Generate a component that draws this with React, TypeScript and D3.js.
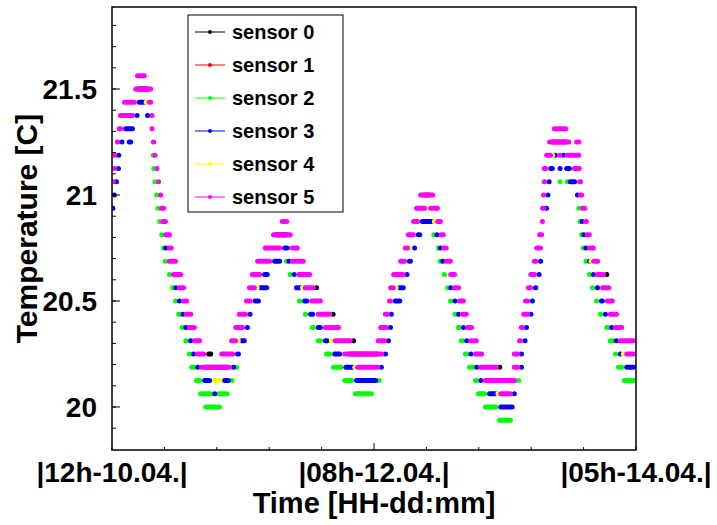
import React from 'react';
import * as d3 from 'd3';

const W = 717;
const H = 525;

const sensorNames = ['sensor 0', 'sensor 1', 'sensor 2', 'sensor 3', 'sensor 4', 'sensor 5'];
const sensorColors = ['#000000', '#ff0000', '#00ff00', '#0000ff', '#ffff00', '#ff00ff'];

// Each run: [temperature °C, start (hours after 12h 10.04.), end (hours)] — a sensor holding that reading
type Run = [number, number, number];

const sensor0Runs: Run[] = [
  [20.25, 16.0, 17.2], [20.5625, 34.7, 34.8], [20.4375, 37.5, 37.6], [20.3125, 41.0, 41.1],
  [20.1875, 65.8, 65.9], [20.625, 84.0, 84.1], [21.5, 4.0, 6.5], [20.8125, 27.5, 30.0],
];

const sensor1Runs: Run[] = [
  [21.5, 4.2, 6.6], [20.8125, 28.0, 30.0], [21, 52.6, 54.3], [21.25, 74.5, 77.5],
  [20.1875, 15.5, 19.8], [20.25, 40.0, 45.5], [20.125, 64.0, 68.2],
];

const sensor2Runs: Run[] = [
  [21.1875, 7.0, 7.0], [21.125, 7.1, 7.1], [21.0625, 7.3, 7.3], [21, 7.6, 7.6], [20.9375, 7.8, 7.8],
  [20.875, 8.0, 8.2], [20.8125, 8.2, 8.7], [20.75, 8.5, 9.0], [20.6875, 8.8, 9.3], [20.625, 9.5, 10.0],
  [20.5625, 9.9, 10.7], [20.5, 10.4, 11.2], [20.4375, 10.9, 11.9], [20.375, 11.5, 12.4],
  [20.3125, 12.1, 13.1], [20.25, 12.7, 13.6], [20.1875, 13.1, 14.3], [20.1875, 20.9, 21.4],
  [20.125, 13.9, 15.3], [20.125, 20.2, 20.6], [20.0625, 14.6, 17.2], [20.0625, 17.7, 20.0],
  [20, 15.5, 18.7],
  [20.6875, 29.4, 29.9], [20.625, 29.9, 30.6], [20.5, 31.4, 32.3], [20.4375, 32.4, 33.3],
  [20.375, 33.6, 34.6], [20.3125, 34.6, 35.8], [20.25, 36.0, 37.4], [20.1875, 37.2, 39.3],
  [20.125, 39.1, 41.1], [20.125, 45.2, 45.5], [20.0625, 40.9, 44.5],
  [20.8125, 54.4, 54.9], [20.75, 55.2, 55.7], [20.6875, 55.4, 56.0], [20.625, 56.0, 56.9],
  [20.5625, 56.6, 57.4], [20.5, 57.1, 57.9], [20.4375, 57.9, 58.6], [20.375, 58.4, 59.4],
  [20.3125, 58.9, 60.0], [20.25, 59.6, 60.6], [20.1875, 60.3, 61.7], [20.125, 61.3, 62.3],
  [20.125, 68.8, 69.3], [20.0625, 61.8, 63.7], [20, 63.0, 65.6], [19.9375, 65.4, 68.1],
  [21.0625, 76.1, 76.1], [21.0625, 77.3, 77.3], [20.9375, 79.1, 79.5], [20.875, 79.3, 79.7],
  [20.8125, 79.5, 80.0], [20.75, 79.8, 80.3], [20.6875, 80.2, 80.8], [20.625, 80.7, 81.5],
  [20.5625, 81.2, 82.0], [20.5, 81.9, 82.7], [20.4375, 82.5, 83.4], [20.375, 83.6, 84.6],
  [20.3125, 84.2, 85.4], [20.25, 85.1, 85.9], [20.1875, 85.6, 87.0], [20.125, 86.6, 89.0],
];

const sensor3Runs: Run[] = [
  [20.9375, 0, 0.3], [21, 0, 0.8], [21.0625, 0.5, 1.0], [21.125, 0.8, 1.4], [21.1875, 0.8, 1.5],
  [21.25, 1.4, 2.0], [21.25, 2.5, 3.6], [21.3125, 1.9, 3.9], [21.375, 3.9, 4.6], [21.375, 5.6, 6.5],
  [21.4375, 4.2, 5.9],
  [20.75, 9.0, 9.3], [20.5625, 10.7, 11.0], [20.5, 11.2, 11.7], [20.4375, 11.9, 12.2],
  [20.375, 12.4, 12.7], [20.3125, 13.1, 13.6], [20.25, 13.6, 14.1], [20.1875, 14.3, 14.8],
  [20.1875, 20.4, 20.9], [20.125, 15.3, 17.0], [20.125, 18.7, 20.2], [20.0625, 17.2, 17.7],
  [20.25, 20.9, 21.9], [20.3125, 21.6, 22.9], [20.375, 22.6, 23.4], [20.4375, 23.1, 23.8],
  [20.5, 23.9, 25.3], [20.5625, 24.8, 26.7], [20.625, 25.5, 26.8], [20.6875, 27.2, 28.9],
  [20.75, 28.9, 30.2],
  [20.6875, 29.9, 30.2], [20.625, 30.6, 31.3], [20.5625, 30.9, 32.4], [20.5, 32.3, 33.5],
  [20.4375, 33.3, 34.5], [20.375, 34.6, 35.8], [20.3125, 35.8, 37.0], [20.25, 37.4, 39.1],
  [20.1875, 39.3, 41.3], [20.125, 41.1, 45.2],
  [20.25, 46.2, 46.7], [20.1875, 45.5, 46.0], [20.3125, 46.7, 47.2], [20.375, 47.0, 47.6],
  [20.4375, 47.2, 47.7], [20.5, 47.7, 49.3], [20.5625, 48.4, 49.9], [20.625, 49.9, 50.3],
  [20.6875, 50.1, 51.1], [20.75, 51.0, 51.8], [20.8125, 51.6, 52.7], [20.875, 52.3, 54.7],
  [20.8125, 54.9, 55.5], [20.75, 55.7, 55.9], [20.6875, 56.0, 56.4], [20.5625, 57.4, 57.7],
  [20.5, 57.9, 58.6], [20.4375, 58.6, 59.1], [20.375, 59.4, 60.0], [20.3125, 60.0, 60.5],
  [20.25, 60.6, 61.3], [20.1875, 61.7, 62.2], [20.125, 62.3, 63.0], [20.0625, 63.7, 65.6],
  [20.0625, 68.1, 68.6], [20, 65.6, 68.4],
  [20.1875, 69.3, 69.8], [20.25, 69.3, 69.8], [20.3125, 69.8, 70.5], [20.375, 70.1, 70.7],
  [20.4375, 71.0, 71.3], [20.5, 71.0, 71.8], [20.5625, 71.5, 72.4], [20.625, 72.2, 72.9],
  [20.6875, 72.4, 73.2], [20.9375, 73.7, 73.9], [21, 73.7, 74.4], [21.0625, 73.9, 74.6],
  [21.125, 74.1, 75.2], [21.1875, 74.9, 75.7], [21.125, 76.1, 76.1], [21.1875, 76.4, 76.9],
  [21.125, 76.8, 78.1], [21.0625, 77.4, 79.0], [21, 79.0, 79.1],
  [20.875, 79.7, 80.0], [20.8125, 80.0, 80.3], [20.75, 80.3, 80.7], [20.6875, 80.8, 81.4],
  [20.625, 81.5, 82.0], [20.5625, 82.0, 82.9], [20.5, 82.7, 83.7], [20.4375, 83.4, 84.2],
  [20.375, 84.6, 85.1], [20.3125, 85.4, 85.9], [20.25, 85.9, 86.8], [20.1875, 87.0, 89.0],
];

const sensor4Runs: Run[] = [
  [21.4375, 5.8, 5.8], [20.125, 17.0, 18.7], [20.3125, 21.4, 21.5], [20.5625, 24.6, 24.7],
  [20.5625, 32.3, 32.4], [20.3125, 37.0, 37.5], [20.1875, 41.2, 41.3], [20.5625, 48.2, 48.3],
  [20.75, 50.5, 50.6], [20.9375, 53.5, 53.6], [20.875, 54.7, 54.8], [20.0625, 65.5, 65.6],
  [21.1875, 74.8, 74.9], [20.6875, 81.3, 81.4], [20.25, 86.8, 86.9],
];

const sensor5Runs: Run[] = [
  [21.0625, 0, 0.5], [21.125, 0, 0.8], [21.1875, 0.2, 0.8], [21.25, 0.5, 1.4], [21.3125, 0.8, 1.9],
  [21.375, 1.0, 3.9], [21.4375, 1.7, 4.2], [21.5, 3.6, 7.0], [21.5625, 3.9, 5.9], [21.4375, 5.9, 7.0],
  [21.375, 6.5, 7.1], [21.3125, 6.5, 7.1], [21.25, 6.6, 7.5], [21.1875, 7.0, 7.6], [21.125, 7.3, 8.0],
  [21.0625, 7.5, 8.3], [21, 7.8, 8.7], [20.9375, 8.0, 9.2], [20.875, 8.2, 9.5], [20.8125, 8.7, 10.2],
  [20.75, 9.3, 10.5], [20.6875, 9.3, 11.2], [20.625, 10.0, 12.1], [20.5625, 11.0, 12.6],
  [20.5, 11.7, 13.1], [20.4375, 12.2, 13.8], [20.375, 12.7, 14.4], [20.3125, 13.6, 15.3],
  [20.25, 14.1, 16.0], [20.1875, 14.8, 20.4],
  [20.25, 18.2, 20.9], [20.3125, 19.9, 21.4], [20.375, 20.6, 22.6], [20.4375, 21.2, 23.1],
  [20.5, 22.4, 23.9], [20.5625, 22.9, 24.6], [20.625, 23.4, 25.5], [20.6875, 24.3, 27.2],
  [20.75, 25.6, 28.9], [20.8125, 27.0, 30.7], [20.875, 28.5, 30.1], [20.75, 30.2, 31.9],
  [20.6875, 30.2, 32.9], [20.625, 31.3, 34.0], [20.5625, 32.4, 34.6], [20.5, 33.5, 35.8],
  [20.4375, 34.6, 37.4], [20.375, 35.8, 38.9], [20.3125, 37.5, 40.9], [20.25, 39.1, 46.2],
  [20.1875, 41.3, 45.5],
  [20.3125, 44.8, 46.7], [20.375, 45.2, 47.0], [20.4375, 46.0, 47.2], [20.5, 46.7, 47.7],
  [20.5625, 46.9, 48.2], [20.625, 47.4, 49.9], [20.6875, 48.6, 50.1], [20.75, 49.4, 50.6],
  [20.8125, 49.9, 51.6], [20.875, 50.8, 52.3], [20.9375, 51.3, 53.5], [21, 52.0, 54.9],
  [20.9375, 53.7, 55.7], [20.875, 54.9, 56.2], [20.8125, 55.5, 56.7], [20.75, 55.9, 57.2],
  [20.6875, 56.4, 57.9], [20.625, 57.1, 58.6], [20.5625, 57.7, 59.3], [20.5, 58.6, 60.1],
  [20.4375, 59.1, 60.6], [20.375, 60.0, 61.5], [20.3125, 60.5, 62.3], [20.25, 61.3, 63.2],
  [20.1875, 62.2, 65.7], [20.125, 63.0, 68.8], [20.0625, 65.6, 68.1],
  [20.1875, 67.9, 69.3], [20.25, 67.9, 69.3], [20.3125, 68.8, 69.8], [20.375, 69.1, 70.1],
  [20.4375, 69.5, 71.0], [20.5, 69.8, 71.0], [20.5625, 70.3, 71.5], [20.625, 70.7, 72.2],
  [20.6875, 71.3, 72.4], [20.75, 71.7, 73.2], [20.8125, 72.2, 73.4], [20.875, 72.7, 73.5],
  [20.9375, 72.7, 73.7], [21, 72.9, 73.7], [21.0625, 73.0, 73.9], [21.125, 73.0, 74.1],
  [21.1875, 73.4, 74.9], [21.25, 73.9, 78.0], [21.3125, 74.7, 77.5], [21.1875, 75.7, 76.4],
  [21.1875, 76.9, 79.7], [21.25, 78.5, 79.7], [21.125, 78.1, 79.8], [21.0625, 79.0, 80.0],
  [21, 79.1, 80.2], [20.9375, 79.5, 80.7], [20.875, 80.0, 81.0], [20.8125, 80.3, 81.5],
  [20.75, 80.7, 82.2], [20.6875, 81.4, 82.9], [20.625, 82.0, 83.9], [20.5625, 82.9, 84.8],
  [20.5, 83.7, 85.4], [20.4375, 84.2, 86.1], [20.375, 85.1, 87.0], [20.3125, 85.9, 89.0],
  [20.25, 87.0, 89.0],
];

const sensorRuns: Run[][] = [sensor0Runs, sensor1Runs, sensor2Runs, sensor3Runs, sensor4Runs, sensor5Runs];

const xDomainHours: [number, number] = [0, 89];
const yDomain: [number, number] = [19.797, 21.887];
const xLabelHours = [0, 44.5, 89];
const xTickLabels = ['|12h-10.04.|', '|08h-12.04.|', '|05h-14.04.|'];
const xTickHours = d3.range(0, 11).map((i) => i * 8.9);
const yMajorTicks = [20, 20.5, 21, 21.5];
const yTickLabels = ['20', '20.5', '21', '21.5'];
const yMinorTicks = d3.range(199, 219).map((v) => v / 10);

const FONT = "'Liberation Sans', Arial, Helvetica, sans-serif";

export default function App() {
  const L = 112, R = 636, T = 7, B = 450;
  const x = d3.scaleLinear().domain(xDomainHours).range([L, R]);
  const y = d3.scaleLinear().domain(yDomain).range([B, T]);
  const barW = 5;
  const rad = barW / 2;

  const legendRows = d3.range(6).map((i) => 32 + i * 33);

  return (
    <svg width={W} height={H} style={{ position: 'absolute', left: 0, top: 0, background: '#fff' }}
      fontFamily={FONT} fontWeight="bold">
      <defs>
        <clipPath id="frameClip">
          <rect x={L} y={T} width={R - L} height={B - T} />
        </clipPath>
      </defs>
      <rect x={0} y={0} width={W} height={H} fill="#fff" />
      <g clipPath="url(#frameClip)">
        {sensorRuns.map((runs, si) => (
          <g key={si} stroke={sensorColors[si]} strokeWidth={barW} strokeLinecap="round">
            {runs.map((r, ri) => {
              const a = x(r[1]);
              const b = x(r[2]);
              let x1: number, x2: number;
              if (b - a > 2 * rad) { x1 = a + rad; x2 = b - rad; } else { x1 = x2 = (a + b) / 2; }
              const yy = y(r[0]);
              return <line key={ri} x1={x1} x2={x2} y1={yy} y2={yy} />;
            })}
          </g>
        ))}
      </g>
      {/* frame */}
      <rect x={L} y={T} width={R - L} height={B - T} fill="none" stroke="#000" strokeWidth={1.5} />
      {/* y ticks */}
      {yMinorTicks.map((v, i) => (
        <line key={'ym' + i} x1={L} x2={L + 4} y1={y(v)} y2={y(v)} stroke="#000" strokeWidth={1} />
      ))}
      {yMajorTicks.map((v, i) => (
        <g key={'yM' + i}>
          <line x1={L} x2={L + 8} y1={y(v)} y2={y(v)} stroke="#000" strokeWidth={1} />
          <text x={L - 15} y={y(v)} dy="0.36em" textAnchor="end" fontSize={28} fill="#000">{yTickLabels[i]}</text>
        </g>
      ))}
      {/* x ticks */}
      {xTickHours.map((h, i) => (
        <line key={'xt' + i} x1={x(h)} x2={x(h)} y1={B} y2={B - (i === 5 ? 7 : 3)} stroke="#000" strokeWidth={1} />
      ))}
      {xLabelHours.map((h, i) => (
        <text key={'xl' + i} x={x(h)} y={482} textAnchor="middle" fontSize={28} fill="#000">{xTickLabels[i]}</text>
      ))}
      {/* axis titles */}
      <text x={(L + R) / 2} y={513} textAnchor="middle" fontSize={29} fill="#000">Time [HH-dd:mm]</text>
      <text transform={`translate(37, ${(T + B) / 2}) rotate(-90)`} textAnchor="middle" fontSize={30} fill="#000">Temperature [C]</text>
      {/* legend */}
      <rect x={188} y={15} width={155} height={197} fill="#fff" stroke="#000" strokeWidth={1} />
      {sensorNames.map((name, i) => (
        <g key={'lg' + i}>
          <line x1={195} x2={225} y1={legendRows[i]} y2={legendRows[i]} stroke={sensorColors[i]} strokeWidth={1} />
          <circle cx={210} cy={legendRows[i]} r={2} fill={sensorColors[i]} />
          <text x={232} y={legendRows[i]} dy="0.36em" fontSize={20} fill="#000">{name}</text>
        </g>
      ))}
    </svg>
  );
}
